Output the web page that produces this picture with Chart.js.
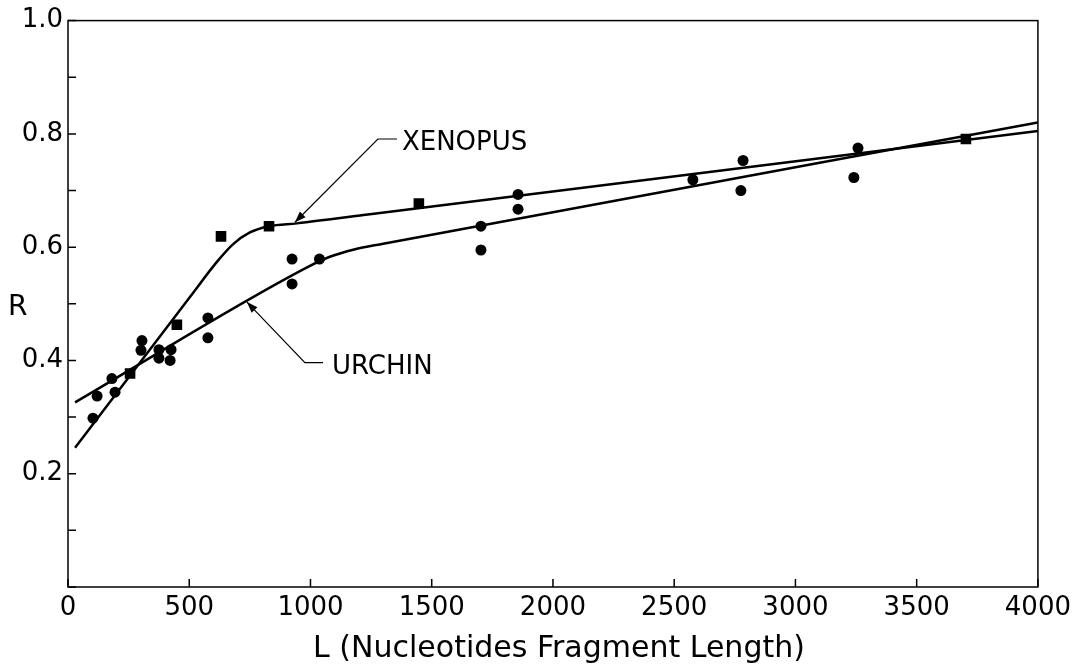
<!DOCTYPE html>
<html>
<head>
<meta charset="utf-8">
<script src="https://cdn.jsdelivr.net/npm/chart.js@4.4.1/dist/chart.umd.min.js"></script>
<style>
  body { margin: 0; background: #fff; }
  canvas { display: block; }
</style>
</head>
<body>
<canvas id="rChart" width="1077" height="665"></canvas>
<script>
// Urchin measurements (circles)
const urchinL = [103, 120, 181, 194, 301, 305, 375, 375, 421, 425, 577, 577, 924, 924, 1037,
  1703, 1703, 1856, 1856, 2577, 2775, 2784, 3241, 3258];
const urchinR = [0.298, 0.337, 0.368, 0.344, 0.418, 0.435, 0.404, 0.419, 0.400, 0.419, 0.440, 0.475, 0.535, 0.579, 0.579,
  0.595, 0.637, 0.667, 0.693, 0.719, 0.700, 0.753, 0.723, 0.775];

// Xenopus measurements (squares)
const xenopusL = [256, 449, 631, 829, 1447, 3703];
const xenopusR = [0.377, 0.463, 0.619, 0.637, 0.677, 0.791];

// hand-drawn fit curves, knots
const urchinFitL = [29, 980, 1080, 1180, 1300, 4000];
const urchinFitR = [0.326, 0.563, 0.583, 0.596, 0.606, 0.820];
const xenopusFitL = [29, 503, 614, 680, 750, 829, 944, 1245, 4000];
const xenopusFitR = [0.246, 0.512, 0.574, 0.605, 0.626, 0.637, 0.642, 0.658, 0.805];

// tick labels
const xTickLabels = ["0", "500", "1000", "1500", "2000", "2500", "3000", "3500", "4000"];
const yTickLabels = ["", "", "0.2", "", "0.4", "", "0.6", "", "0.8", "", "1.0"];

const FONT = "'DejaVu Sans', sans-serif";

function toPoints(xs, ys) {
  return xs.map((x, i) => ({ x: x, y: ys[i] }));
}

// curve labels with leader arrows (data coords)
const notes = [
  { text: "XENOPUS", tip: [936, 0.644], elbow: [1278, 0.791], end: [1357, 0.791], textX: 1377 },
  { text: "URCHIN", tip: [738, 0.503], elbow: [977, 0.396], end: [1052, 0.396], textX: 1089 }
];

const framePlugin = {
  id: "frameAndNotes",
  afterDraw(chart) {
    const ctx = chart.ctx;
    const area = chart.chartArea;
    const xs = chart.scales.x;
    const ys = chart.scales.y;

    ctx.save();
    ctx.strokeStyle = "#000";
    ctx.fillStyle = "#000";

    // frame
    ctx.lineWidth = 1.5;
    ctx.strokeRect(area.left, area.top, area.right - area.left, area.bottom - area.top);

    // inward tick marks
    ctx.beginPath();
    xs.ticks.forEach(t => {
      const px = xs.getPixelForValue(t.value);
      ctx.moveTo(px, area.bottom);
      ctx.lineTo(px, area.bottom - 8);
    });
    ys.ticks.forEach(t => {
      const py = ys.getPixelForValue(t.value);
      ctx.moveTo(area.left, py);
      ctx.lineTo(area.left + 8, py);
    });
    ctx.stroke();

    // axis titles
    ctx.textBaseline = "alphabetic";
    ctx.font = "28px " + FONT;
    ctx.textAlign = "left";
    ctx.fillText("R", 8, 315);
    ctx.font = "30px " + FONT;
    ctx.textAlign = "center";
    ctx.fillText("L (Nucleotides Fragment Length)", 559, 657);

    // curve labels
    ctx.font = "26px " + FONT;
    ctx.textAlign = "left";
    ctx.lineWidth = 1.2;
    notes.forEach(n => {
      const tx = xs.getPixelForValue(n.tip[0]), ty = ys.getPixelForValue(n.tip[1]);
      const ex = xs.getPixelForValue(n.elbow[0]), ey = ys.getPixelForValue(n.elbow[1]);
      const hx = xs.getPixelForValue(n.end[0]);
      ctx.beginPath();
      ctx.moveTo(hx, ey);
      ctx.lineTo(ex, ey);
      ctx.lineTo(tx, ty);
      ctx.stroke();
      // arrow head
      const ang = Math.atan2(ty - ey, tx - ex);
      const len = 11, half = 4;
      ctx.beginPath();
      ctx.moveTo(tx, ty);
      ctx.lineTo(tx - len * Math.cos(ang) + half * Math.sin(ang), ty - len * Math.sin(ang) - half * Math.cos(ang));
      ctx.lineTo(tx - len * Math.cos(ang) - half * Math.sin(ang), ty - len * Math.sin(ang) + half * Math.cos(ang));
      ctx.closePath();
      ctx.fill();
      ctx.fillText(n.text, xs.getPixelForValue(n.textX), ey + 11);
    });

    ctx.restore();
  }
};

const chart = new Chart(document.getElementById("rChart"), {
  type: "scatter",
  data: {
    datasets: [
      {
        label: "Urchin",
        data: toPoints(urchinL, urchinR),
        pointStyle: "circle",
        pointRadius: 5.5,
        backgroundColor: "#000",
        borderColor: "#000",
        borderWidth: 0
      },
      {
        label: "Xenopus",
        data: toPoints(xenopusL, xenopusR),
        pointStyle: "rect",
        pointRadius: 7.5,
        backgroundColor: "#000",
        borderColor: "#000",
        borderWidth: 0
      },
      {
        label: "Urchin fit",
        data: toPoints(urchinFitL, urchinFitR),
        showLine: true,
        pointRadius: 0,
        borderColor: "#000",
        borderWidth: 2.5,
        cubicInterpolationMode: "monotone",
        fill: false
      },
      {
        label: "Xenopus fit",
        data: toPoints(xenopusFitL, xenopusFitR),
        showLine: true,
        pointRadius: 0,
        borderColor: "#000",
        borderWidth: 2.5,
        cubicInterpolationMode: "monotone",
        fill: false
      }
    ]
  },
  options: {
    responsive: false,
    animation: false,
    events: [],
    layout: { padding: { top: 17, right: 39, left: 0, bottom: 0 } },
    plugins: {
      legend: { display: false },
      tooltip: { enabled: false }
    },
    scales: {
      x: {
        type: "linear",
        min: 0,
        max: 4000,
        grid: { display: false, drawTicks: false },
        border: { display: false },
        ticks: {
          stepSize: 500,
          autoSkip: false,
          maxRotation: 0,
          padding: 6,
          color: "#000",
          font: { family: FONT, size: 26 },
          callback: (v, i) => xTickLabels[i]
        },
        afterFit: s => { s.height = 78; }
      },
      y: {
        type: "linear",
        min: 0,
        max: 1,
        grid: { display: false, drawTicks: false },
        border: { display: false },
        ticks: {
          stepSize: 0.1,
          autoSkip: false,
          padding: 5,
          color: "#000",
          font: { family: FONT, size: 26 },
          callback: (v, i) => yTickLabels[i]
        },
        afterFit: s => { s.width = 68; }
      }
    }
  },
  plugins: [framePlugin]
});
</script>
</body>
</html>
